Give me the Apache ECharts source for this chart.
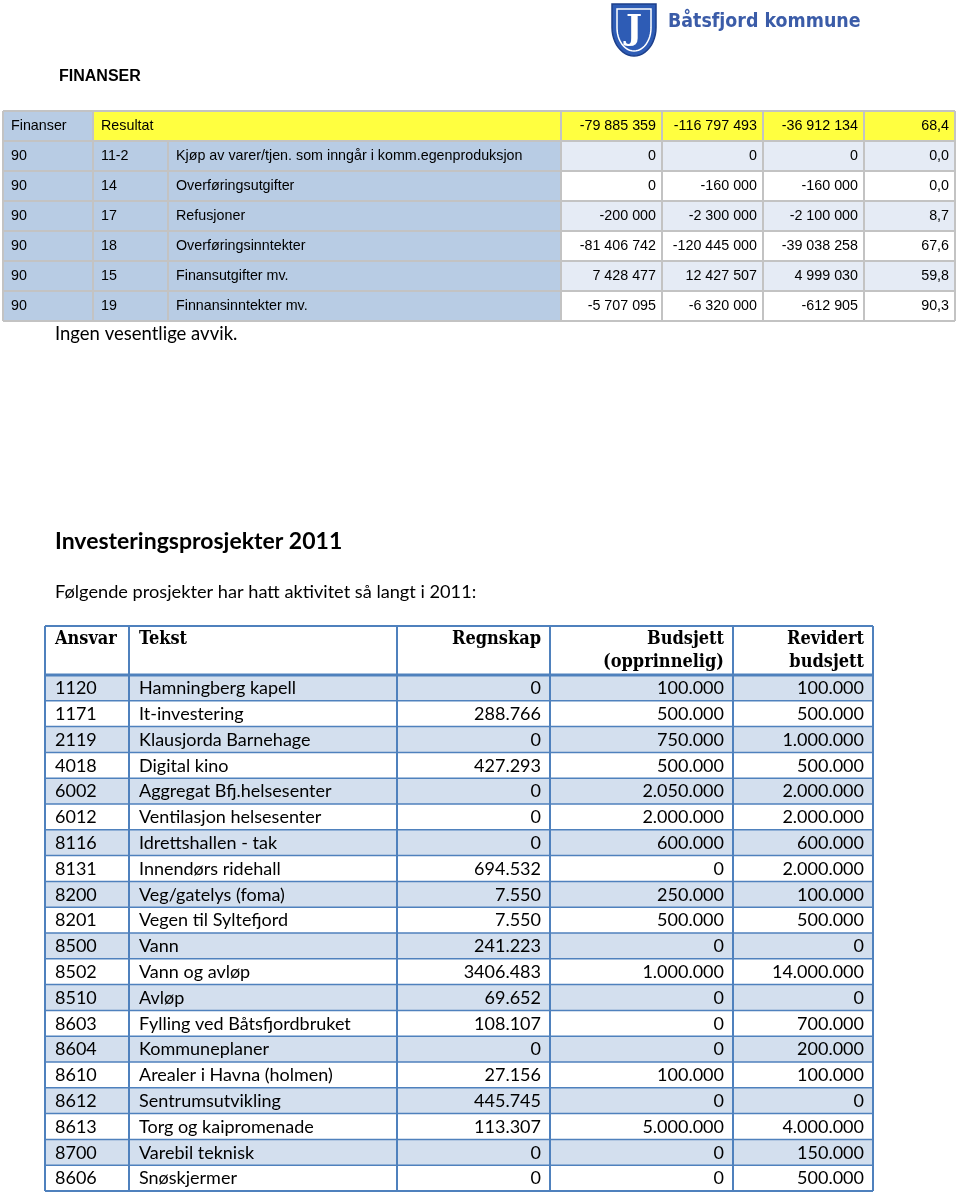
<!DOCTYPE html>
<html><head><meta charset="utf-8">
<script src="https://cdn.jsdelivr.net/npm/echarts@6/dist/echarts.min.js"></script>
<style>html,body{margin:0;padding:0;background:#fff}#c{width:960px;height:1194px}</style>
</head><body><div id="c"></div>
<script>
// ---- Data: Finanser table ----
const finHeaderLabel = "Finanser";
const finHeaderText = "Resultat";
const finResult = [-79885359, -116797493, -36912134, 68.4];
const finCodeA = ["90", "90", "90", "90", "90", "90"];
const finCodeB = ["11-2", "14", "17", "18", "15", "19"];
const finText = ["Kjøp av varer/tjen. som inngår i komm.egenproduksjon", "Overføringsutgifter", "Refusjoner", "Overføringsinntekter", "Finansutgifter mv.", "Finnansinntekter mv."];
const finRegnskap = [0, 0, -200000, -81406742, 7428477, -5707095];
const finBudsjett = [0, -160000, -2300000, -120445000, 12427507, -6320000];
const finAvvik = [0, -160000, -2100000, -39038258, 4999030, -612905];
const finPct = [0.0, 0.0, 8.7, 67.6, 59.8, 90.3];

// ---- Data: Investeringsprosjekter table ----
const invHeaders = ["Ansvar", "Tekst", "Regnskap", "Budsjett\n(opprinnelig)", "Revidert\nbudsjett"];
const invAnsvar = ["1120","1171","2119","4018","6002","6012","8116","8131","8200","8201","8500","8502","8510","8603","8604","8610","8612","8613","8700","8606"];
const invTekst = ["Hamningberg kapell","It-investering","Klausjorda Barnehage","Digital kino","Aggregat Bfj.helsesenter","Ventilasjon helsesenter","Idrettshallen - tak","Innendørs ridehall","Veg/gatelys (foma)","Vegen til Syltefjord","Vann","Vann og avløp","Avløp","Fylling ved Båtsfjordbruket","Kommuneplaner","Arealer i Havna (holmen)","Sentrumsutvikling","Torg og kaipromenade","Varebil teknisk","Snøskjermer"];
const invRegnskap = ["0","288.766","0","427.293","0","0","0","694.532","7.550","7.550","241.223","3406.483","69.652","108.107","0","27.156","445.745","113.307","0","0"];
const invBudsjett = ["100.000","500.000","750.000","500.000","2.050.000","2.000.000","600.000","0","250.000","500.000","0","1.000.000","0","0","0","100.000","0","5.000.000","0","0"];
const invRevidert = ["100.000","500.000","1.000.000","500.000","2.000.000","2.000.000","600.000","2.000.000","100.000","500.000","0","14.000.000","0","700.000","200.000","100.000","0","4.000.000","150.000","500.000"];

// ---- Texts ----
const logoText = "Båtsfjord kommune";
const pageTitle = "FINANSER";
const noteText = "Ingen vesentlige avvik.";
const invTitle = "Investeringsprosjekter 2011";
const invIntro = "Følgende prosjekter har hatt aktivitet så langt i 2011:";

// ---- formatting helpers ----
function fmtSpace(v) {
  const s = Math.abs(v).toString().replace(/\B(?=(\d{3})+(?!\d))/g, " ");
  return (v < 0 ? "-" : "") + s;
}
function fmtPct(v) { return v.toFixed(1).replace(".", ","); }

const els = [];
const SANS = "'Liberation Sans', Arial, sans-serif";
const CAL = "Lato, 'Noto Sans', sans-serif";
const SERIF = "'DejaVu Serif Condensed', 'DejaVu Serif', 'Liberation Serif', serif";

// ---- Logo ----
function shield(cx, top, w, h) {
  const pts = [];
  const hw = w / 2, straight = h * 0.45;
  pts.push([cx - hw, top]); pts.push([cx + hw, top]);
  for (let i = 0; i <= 12; i++) {
    const t = i / 12;
    pts.push([cx + hw * Math.cos(t * Math.PI / 2), top + straight + (h - straight) * Math.sin(t * Math.PI / 2)]);
  }
  for (let i = 11; i >= 0; i--) {
    const t = i / 12;
    pts.push([cx - hw * Math.cos(t * Math.PI / 2), top + straight + (h - straight) * Math.sin(t * Math.PI / 2)]);
  }
  return pts;
}
els.push({type:'polygon', shape:{points:shield(634, 4, 44, 52)}, style:{fill:'#2e5cb5', stroke:'#1d3f8a', lineWidth:1.5}});
els.push({type:'polygon', shape:{points:shield(634, 9, 34, 42)}, style:{fill:'none', stroke:'#ffffff', lineWidth:1.5}});
els.push({type:'text', x:634, y:30, style:{text:'J', fill:'#ffffff', font:"bold 34px 'DejaVu Serif', serif", align:'center', verticalAlign:'middle'}});
els.push({type:'text', x:668, y:22, style:{text:logoText, fill:'#3b5ca8', font:"bold 19.4px 'DejaVu Sans Condensed', 'DejaVu Sans', sans-serif", verticalAlign:'middle'}});

// ---- Title ----
els.push({type:'text', x:59, y:77, style:{text:pageTitle, fill:'#000', font:"bold 16px " + SANS, verticalAlign:'middle'}});

// ---- Finanser table ----
const fCols = [3, 93, 168, 561, 662, 763, 864, 955];
const fTop = 111, fRowH = 30;
const fBlue = '#b8cce4', fYellow = '#ffff40', fLight = '#e5ebf5', fBorder = '#c3c3c3';
const fRows = [];
fRows.push([finHeaderLabel, finHeaderText, null].concat(finResult.slice(0,3).map(fmtSpace), [fmtPct(finResult[3])]));
for (let i = 0; i < finText.length; i++) {
  fRows.push([finCodeA[i], finCodeB[i], finText[i], fmtSpace(finRegnskap[i]), fmtSpace(finBudsjett[i]), fmtSpace(finAvvik[i]), fmtPct(finPct[i])]);
}
fRows.forEach((row, r) => {
  const y = fTop + r * fRowH;
  for (let c = 0; c < 7; c++) {
    let fill;
    if (r === 0) fill = c === 0 ? fBlue : fYellow;
    else if (c < 3) fill = fBlue;
    else fill = (r % 2 === 1) ? fLight : '#ffffff';
    els.push({type:'rect', shape:{x:fCols[c], y:y, width:fCols[c+1]-fCols[c], height:fRowH}, style:{fill:fill}, z:1});
  }
});
fRows.forEach((row, r) => {
  const yc = fTop + r * fRowH + fRowH / 2;
  row.forEach((t, c) => {
    if (t === null) return;
    const right = c >= 3;
    els.push({type:'text', x: right ? fCols[c+1]-6 : fCols[c]+8, y: yc, z:5,
      style:{text:t, fill:'#000', font:"14.3px " + SANS, align: right ? 'right':'left', verticalAlign:'middle'}});
  });
});
for (let r = 0; r <= fRows.length; r++) {
  const y = fTop + r * fRowH;
  els.push({type:'line', shape:{x1:fCols[0], y1:y, x2:fCols[7], y2:y}, style:{stroke:fBorder, lineWidth:2}, z:3});
}
for (let c = 0; c < fCols.length; c++) {
  const yStart = (c === 2) ? fTop + fRowH : fTop;
  els.push({type:'line', shape:{x1:fCols[c], y1:yStart, x2:fCols[c], y2:fTop + fRows.length * fRowH}, style:{stroke:fBorder, lineWidth:2}, z:3});
}

// ---- Note ----
els.push({type:'text', x:55, y:334, style:{text:noteText, fill:'#000', font:"18.5px " + CAL, verticalAlign:'middle'}});

// ---- Investering title ----
els.push({type:'text', x:55, y:542, style:{text:invTitle, fill:'#000', font:"bold 23px " + CAL, verticalAlign:'middle'}});
els.push({type:'text', x:55, y:592, style:{text:invIntro, fill:'#000', font:"18.2px " + CAL, verticalAlign:'middle'}});

// ---- Investering table ----
const iCols = [45, 129, 397, 550, 733, 873];
const iHeadTop = 626, iHeadBot = 675, iRowH = 25.8;
const iBlue = '#d3dfee', iBorder = '#4f81bd';
const iN = invAnsvar.length;
for (let r = 0; r < iN; r++) {
  const y = iHeadBot + r * iRowH;
  els.push({type:'rect', shape:{x:iCols[0], y:y, width:iCols[5]-iCols[0], height:iRowH}, style:{fill: r % 2 === 0 ? iBlue : '#ffffff'}, z:1});
  const cells = [invAnsvar[r], invTekst[r], invRegnskap[r], invBudsjett[r], invRevidert[r]];
  cells.forEach((t, c) => {
    const right = c >= 2;
    els.push({type:'text', x: right ? iCols[c+1]-9 : iCols[c]+10, y: y + iRowH/2 + 0.5, z:5,
      style:{text:t, fill:'#000', font:"18px " + CAL, align: right ? 'right':'left', verticalAlign:'middle'}});
  });
}
invHeaders.forEach((t, c) => {
  const right = c >= 2;
  const lines = t.split("\n");
  lines.forEach((ln, k) => {
    els.push({type:'text', x: right ? iCols[c+1]-9 : iCols[c]+10, y: 639 + k*23, z:5,
      style:{text:ln, fill:'#000', font:"bold 18px " + SERIF, align: right ? 'right':'left', verticalAlign:'middle'}});
  });
});
const iBottom = iHeadBot + iN * iRowH;
els.push({type:'line', shape:{x1:iCols[0], y1:iHeadTop, x2:iCols[5], y2:iHeadTop}, style:{stroke:iBorder, lineWidth:2}, z:3});
els.push({type:'line', shape:{x1:iCols[0], y1:iHeadBot, x2:iCols[5], y2:iHeadBot}, style:{stroke:iBorder, lineWidth:3}, z:3});
for (let r = 1; r <= iN; r++) {
  const y = iHeadBot + r * iRowH;
  els.push({type:'line', shape:{x1:iCols[0], y1:y, x2:iCols[5], y2:y}, style:{stroke:iBorder, lineWidth:r === iN ? 2 : 1.5}, z:3});
}
iCols.forEach((x) => {
  els.push({type:'line', shape:{x1:x, y1:iHeadTop, x2:x, y2:iBottom}, style:{stroke:iBorder, lineWidth:2}, z:3});
});

const chart = echarts.init(document.getElementById('c'), null, {renderer:'canvas', width:960, height:1194});
chart.setOption({
  backgroundColor:'#ffffff',
  animation:false,
  graphic:{elements: els}
});
</script>
</body></html>
